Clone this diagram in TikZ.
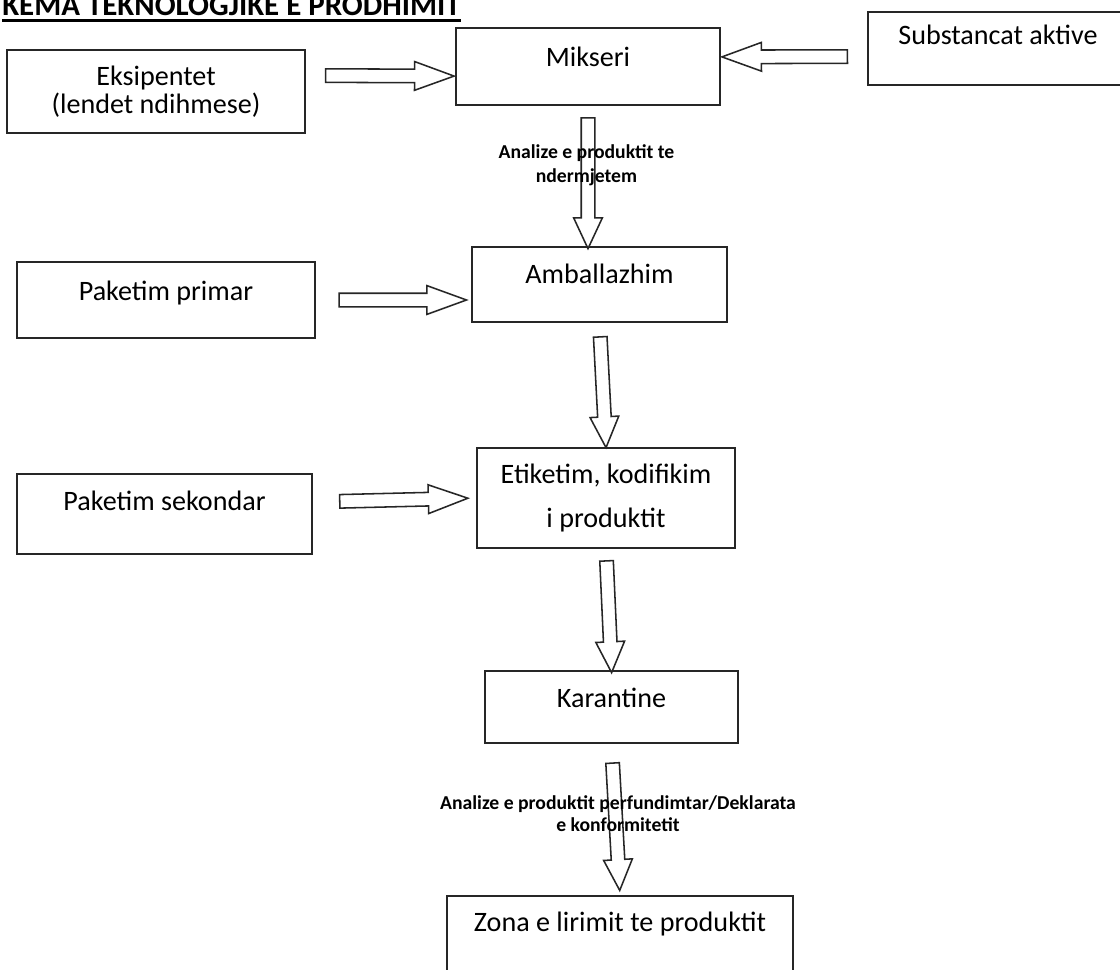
\documentclass[tikz,border=0pt]{standalone}
\usepackage{fontspec}
\setmainfont{Carlito}
\usetikzlibrary{shapes.arrows, calc}

\newcommand{\boxfont}{\fontsize{20pt}{19.5pt}\selectfont}
\newcommand{\notefont}{\fontsize{14pt}{17pt}\selectfont\bfseries}

\begin{document}
\begin{tikzpicture}[
    box/.style={rectangle, draw=black!85, line width=1.2pt, fill=white,
                align=center, font=\boxfont, inner sep=0pt},
    up/.style={text height=0pt, text depth=#1},
    note/.style={align=center, inner sep=0pt, font=\notefont},
    blockarrow/.style={single arrow, draw=black!85, line width=1.1pt, fill=white,
                inner xsep=0pt, inner ysep=0.15cm, single arrow head extend=0.19cm},
    blk/.style={to path={let \p1=($(\tikztotarget)-(\tikztostart)$),
                \n1={veclen(\x1,\y1)-2*#1} in -- (\tikztotarget)
                node[midway, sloped, allow upside down, blockarrow, minimum height=\n1]{}}},
    blk/.default=0.15cm,
    single arrow tip angle=50,
  ]
    \useasboundingbox (0,0) rectangle (28,-24.25);
    \fill[white] (0,0) rectangle (28,-24.25);

    % title, cut at the top of the page
    \node[anchor=base west, inner sep=0pt, font=\fontsize{22pt}{22pt}\selectfont\bfseries]
        (title) at (0.05,-0.39) {KEMA TEKNOLOGJIKE E PRODHIMIT};
    \draw[line width=1.6pt] ([yshift=-3.5pt]title.base west) -- ([yshift=-3.5pt]title.base east);

    % boxes
    \node[box, minimum width=7.45cm, minimum height=2.075cm] (eks) at (3.9,-2.2875) {Eksipentet\\(lendet ndihmese)};
    \node[box, up=0.5pt, minimum width=6.6cm, minimum height=1.925cm] (mix) at (14.7,-1.6625) {Mikseri};
    \node[box, up=5pt, minimum width=6.5cm, minimum height=1.825cm] (sub) at (24.95,-1.2125) {Substancat aktive};
    \node[box, up=0pt, minimum width=7.45cm, minimum height=1.9cm] (pp) at (4.15,-7.5) {Paketim primar};
    \node[box, up=2pt, minimum width=6.375cm, minimum height=1.875cm] (amb) at (14.9875,-7.1125) {Amballazhim};
    \node[box, up=5.5pt, minimum width=7.375cm, minimum height=2cm] (ps) at (4.1125,-12.85) {Paketim sekondar};
    \node[box, font=\fontsize{20pt}{30.6pt}\selectfont, minimum width=6.45cm, minimum height=2.5cm]
        (et) at (15.15,-12.45) {Etiketim, kodifikim\\i produktit};
    \node[box, up=0pt, minimum width=6.325cm, minimum height=1.8cm] (kar) at (15.2875,-17.675) {Karantine};
    \node[box, up=4pt, minimum width=8.65cm, minimum height=1.9cm] (zona) at (15.5,-23.35) {Zona e lirimit te produktit};

    % hollow arrows
    \path[single arrow tip angle=40] ([yshift=4mm]eks.east) to[blk=0.26cm] ([yshift=-2.4mm]mix.west);
    \path[single arrow tip angle=40] ([yshift=-2mm]sub.west) to[blk=0.26cm] ([yshift=2.4mm]mix.east);
    \path[single arrow tip angle=40] (pp.east) to[blk=0.35cm] (amb.west |- pp.east);
    \path[single arrow tip angle=40] ([yshift=3mm]ps.east) to[blk=0.44cm] (et.west);
    \path (mix.south) to[blk=0.12cm] (mix.south |- amb.north);
    \path (amb.south) to[blk=0.17cm] (et.north);
    \path (et.south) to[blk=0.12cm] (kar.north);
    \path (kar.south) to[blk=0.3cm] (zona.north);

    % notes on the arrows
    \node[note] (note1) at (14.6625,-4.125) {Analize e produktit te\\ndermjetem};
    \node[note, font=\fontsize{14pt}{15.6pt}\selectfont\bfseries] (note2) at (15.45,-20.35)
        {Analize e produktit perfundimtar/Deklarata\\e konformitetit};
\end{tikzpicture}
\end{document}
